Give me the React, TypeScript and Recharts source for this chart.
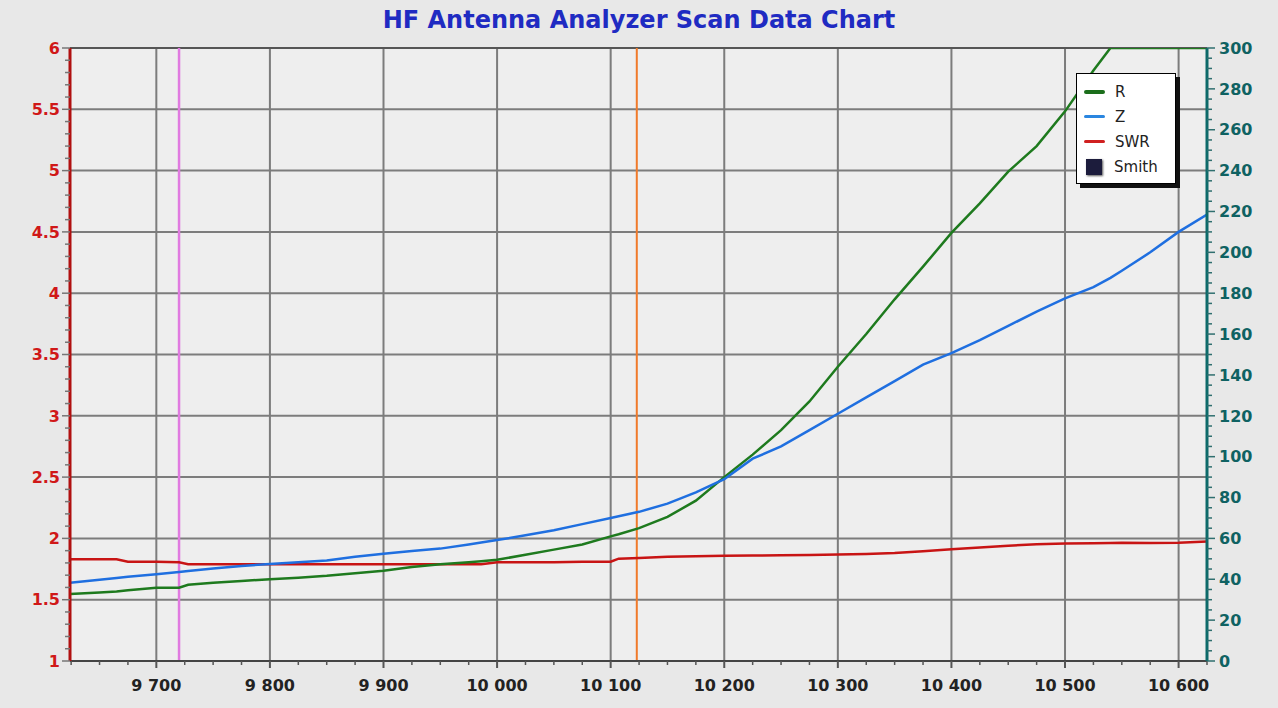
import React from 'react';
import {
  LineChart, Line, XAxis, YAxis, CartesianGrid, ReferenceLine, Legend,
} from 'recharts';

// ---- data ----
const freq = [9624, 9650, 9665, 9675, 9700, 9720, 9728, 9750, 9775, 9800, 9825, 9850, 9875, 9900, 9925, 9950, 9975, 9986, 10000, 10025, 10050, 10075, 10100, 10107, 10125, 10150, 10175, 10200, 10225, 10250, 10275, 10300, 10325, 10350, 10375, 10400, 10425, 10450, 10475, 10500, 10525, 10540, 10550, 10575, 10600, 10625];
const rOhm = [32.8, 33.5, 34.0, 34.6, 35.8, 35.9, 37.3, 38.3, 39.2, 40.0, 40.8, 41.7, 43.0, 44.2, 46.0, 47.3, 48.3, 48.8, 49.5, 52.0, 54.5, 57.0, 61.0, 62.0, 65.0, 70.5, 78.5, 90, 101, 113, 127, 144, 160, 177, 193, 209.5, 224, 239.5, 252, 269, 289, 300, 300, 300, 300, 300];
const zOhm = [38.3, 39.8, 40.6, 41.2, 42.5, 43.6, 44.1, 45.3, 46.5, 47.5, 48.3, 49.2, 51.0, 52.5, 53.8, 55.0, 57.0, 58.0, 59.2, 61.5, 64.0, 67.0, 70.0, 70.8, 73.0, 77.0, 82.5, 89.0, 99, 105, 113, 121, 129, 137, 145, 150.7, 157, 164, 171, 177.5, 183, 187.5, 191, 200, 210, 218.5];
const swr = [1.83, 1.83, 1.83, 1.81, 1.81, 1.805, 1.79, 1.79, 1.79, 1.79, 1.79, 1.79, 1.79, 1.79, 1.79, 1.79, 1.79, 1.79, 1.805, 1.805, 1.805, 1.81, 1.81, 1.835, 1.84, 1.85, 1.855, 1.858, 1.86, 1.862, 1.865, 1.868, 1.872, 1.88, 1.895, 1.912, 1.925, 1.94, 1.952, 1.958, 1.96, 1.962, 1.965, 1.962, 1.965, 1.975];

const xMajorTicks = [9700, 9800, 9900, 10000, 10100, 10200, 10300, 10400, 10500, 10600];
const xMinorTicks = Array.from({ length: 41 }, (_, i) => 9625 + i * 25);
const leftMajorTicks = [1, 1.5, 2, 2.5, 3, 3.5, 4, 4.5, 5, 5.5, 6];
const leftMinorTicks = Array.from({ length: 51 }, (_, i) => Math.round((1 + i * 0.1) * 10) / 10);
const rightMinorTicks = Array.from({ length: 61 }, (_, i) => i * 5);

const markerA = 9720;
const markerB = 10123;

const chartData = freq.map((f, i) => ({ f, R: rOhm[i], Z: zOhm[i], SWR: swr[i] }));

const legendItems = [
  { name: 'R', color: '#1b6e1b', kind: 'line', w: 4 },
  { name: 'Z', color: '#2a86e0', kind: 'line', w: 3 },
  { name: 'SWR', color: '#d02020', kind: 'line', w: 3 },
  { name: 'Smith', color: '#1c1c3c', kind: 'square', w: 0 },
];

const FONT = '"DejaVu Sans", Verdana, sans-serif';

const fmtThousands = (v: number) => String(v).replace(/\B(?=(\d{3})+(?!\d))/g, ' ');

const XTick = (props: any) => {
  const { x, y, payload } = props;
  const v = payload.value;
  const major = v % 100 === 0;
  return (
    <g>
      <line x1={x} x2={x} y1={y} y2={y + (major ? 7 : 4)} stroke="#555" strokeWidth={major ? 2 : 1.5} />
      {major && (
        <text x={x} y={y + 30} textAnchor="middle" fontFamily={FONT} fontWeight="bold" fontSize={16} fill="#222">
          {fmtThousands(v)}
        </text>
      )}
    </g>
  );
};

const LeftTick = (props: any) => {
  const { x, y, payload } = props;
  const v = payload.value;
  const major = Math.abs(v * 2 - Math.round(v * 2)) < 1e-6;
  return (
    <g>
      <line x1={x - (major ? 8 : 5)} x2={x} y1={y} y2={y} stroke="#777" strokeWidth={1.5} />
      {major && (
        <text x={x - 10} y={y} dy="0.36em" textAnchor="end" fontFamily={FONT} fontWeight="bold" fontSize={16} fill="#d01818">
          {String(v)}
        </text>
      )}
    </g>
  );
};

const RightTick = (props: any) => {
  const { x, y, payload } = props;
  const v = payload.value;
  const major = v % 20 === 0;
  return (
    <g>
      <line x1={x} x2={x + (major ? 8 : 5)} y1={y} y2={y} stroke="#2f6f6f" strokeWidth={1.5} />
      {major && (
        <text x={x + 12} y={y} dy="0.36em" textAnchor="start" fontFamily={FONT} fontWeight="bold" fontSize={16} fill="#0f6262">
          {String(v)}
        </text>
      )}
    </g>
  );
};

const LegendBox = () => (
  <div
    style={{
      width: 100,
      height: 111,
      background: '#ffffff',
      border: '1px solid #000',
      boxShadow: '4px 4px 0 #111',
      boxSizing: 'border-box',
      paddingTop: 5,
      fontFamily: FONT,
      fontSize: 15,
      color: '#222',
    }}
  >
    {legendItems.map((it) => (
      <div key={it.name} style={{ display: 'flex', alignItems: 'center', height: 25 }}>
        {it.kind === 'line' ? (
          <div style={{ marginLeft: 7, width: 21, height: it.w, background: it.color, borderRadius: 2 }} />
        ) : (
          <div style={{ marginLeft: 9, width: 16, height: 16, background: it.color, boxShadow: '1px 1px 2px #555' }} />
        )}
        <span style={{ marginLeft: it.kind === 'line' ? 10 : 12 }}>{it.name}</span>
      </div>
    ))}
  </div>
);

export default function App() {
  return (
    <div style={{ position: 'absolute', left: 0, top: 0, width: 1278, height: 708, background: '#e8e8e8', overflow: 'hidden' }}>
      <div
        style={{
          position: 'absolute', left: 0, top: 4, width: 1278, textAlign: 'center',
          fontFamily: FONT, fontWeight: 'bold', fontSize: 24, color: '#1f2bc2', lineHeight: '32px',
        }}
      >
        HF Antenna Analyzer Scan Data Chart
      </div>
      <LineChart width={1278} height={708} data={chartData} margin={{ top: 48, right: 0, left: 0, bottom: 0 }}>
        <XAxis
          xAxisId="main" dataKey="f" type="number" domain={[9624, 10625]} allowDataOverflow
          ticks={xMinorTicks} interval={0} tick={<XTick />} tickLine={false} tickSize={0} tickMargin={0}
          axisLine={{ stroke: '#444', strokeWidth: 2 }} height={47}
        />
        <XAxis xAxisId="grid" dataKey="f" type="number" domain={[9624, 10625]} allowDataOverflow ticks={xMajorTicks} hide height={0} orientation="top" />
        <YAxis
          yAxisId="left" orientation="left" type="number" domain={[1, 6]} allowDataOverflow
          ticks={leftMinorTicks} interval={0} tick={<LeftTick />} tickLine={false} tickSize={0} tickMargin={0}
          axisLine={{ stroke: '#b01010', strokeWidth: 3 }} width={70}
        />
        <YAxis yAxisId="grid" type="number" domain={[1, 6]} allowDataOverflow ticks={leftMajorTicks} hide width={0} orientation="right" />
        <YAxis
          yAxisId="right" orientation="right" type="number" domain={[0, 300]} allowDataOverflow
          ticks={rightMinorTicks} interval={0} tick={<RightTick />} tickLine={false} tickSize={0} tickMargin={0}
          axisLine={{ stroke: '#0d6a6a', strokeWidth: 3 }} width={71}
        />
        <CartesianGrid xAxisId="grid" yAxisId="grid" stroke="#7c7c7c" strokeWidth={2} fill="#eeeeee" fillOpacity={1} />
        <ReferenceLine xAxisId="main" yAxisId="left" y={6} stroke="#555" strokeWidth={2} />
        <ReferenceLine xAxisId="main" yAxisId="left" x={markerA} stroke="#e07ae0" strokeWidth={2.5} />
        <ReferenceLine xAxisId="main" yAxisId="left" x={markerB} stroke="#f07a2a" strokeWidth={2} />
        <Line xAxisId="main" yAxisId="left" dataKey="SWR" type="linear" stroke="#c81414" strokeWidth={2.5} dot={false} isAnimationActive={false} />
        <Line xAxisId="main" yAxisId="right" dataKey="R" type="linear" stroke="#1e7a1e" strokeWidth={2.5} dot={false} isAnimationActive={false} />
        <Line xAxisId="main" yAxisId="right" dataKey="Z" type="linear" stroke="#1f6fe0" strokeWidth={2.5} dot={false} isAnimationActive={false} />
        <Legend
          layout="vertical" align="center" verticalAlign="middle"
          content={<LegendBox />}
          wrapperStyle={{ position: 'absolute', left: 1076, top: 73, width: 100, height: 111 }}
        />
      </LineChart>
    </div>
  );
}
